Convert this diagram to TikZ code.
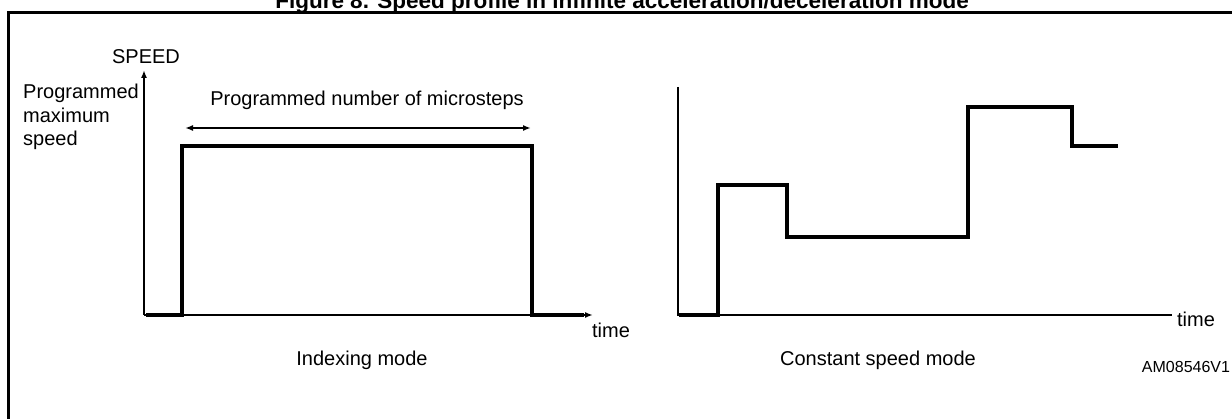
\documentclass[tikz,border=0pt]{standalone}
\usepackage{fontspec}
\setmainfont{Liberation Sans}
\usetikzlibrary{arrows.meta}
\begin{document}
\begin{tikzpicture}[x=1pt,y=-1pt,
  lbl/.style={inner sep=0pt,font=\fontsize{20}{23.5}\selectfont},
  axisline/.style={line width=2pt},
  profile/.style={line width=4.5pt,line join=miter,line cap=butt},
  tip/.style={-{Latex[length=8pt,width=6pt]}},
  frameline/.style={line width=3pt}]
\useasboundingbox (0,0) rectangle (1232,419);
\clip (0,0) rectangle (1232,419);
% title (cut off at top)
\node[inner sep=0pt,anchor=base,font=\bfseries\fontsize{22.5}{26}\selectfont] (title) at (622,9) {Figure 8. Speed profile in infinite acceleration/deceleration mode};
% frame
\coordinate (fbl) at (8.5,425);
\coordinate (ftl) at (8.5,13);
\coordinate (ftr) at (1240,13);
\draw[frameline] (fbl) -- (ftl) -- (ftr);
% left chart
\coordinate (lo) at (144,315);
\coordinate (ly) at (144,70);
\coordinate (lx) at (593,315);
\draw[axisline,tip] (lo) -- (ly);
\draw[axisline,tip] (lo) -- (lx);
\draw[profile] (146,315) -- (182,315) -- (182,146) -- (532,146) -- (532,315) -- (584,315);
\coordinate (ma) at (185,128);
\coordinate (mb) at (531,128);
\draw[line width=1.6pt,{Latex[length=8pt,width=6pt]}-{Latex[length=8pt,width=6pt]}] (ma) -- (mb);
\node[lbl] (speed) at (146,57) {SPEED};
\node[lbl,align=left,anchor=north west] (pms) at (23,84) {Programmed\\maximum\\speed};
\node[lbl] (nms) at (367,100) {Programmed number of microsteps};
\node[lbl] (time1) at (611,330) {time};
\node[lbl] (idx) at (362,360) {Indexing mode};
% right chart
\coordinate (ro) at (678,315);
\coordinate (ry) at (678,87);
\coordinate (rx) at (1172,315);
\draw[axisline] (ry) -- (ro) -- (rx);
\draw[profile] (679,315) -- (718,315) -- (718,185) -- (787,185) -- (787,237) -- (968,237) -- (968,107) -- (1072,107) -- (1072,146) -- (1118,146);
\node[lbl] (time2) at (1196,319) {time};
\node[lbl] (csm) at (878,360) {Constant speed mode};
\node[inner sep=0pt,font=\fontsize{16}{19}\selectfont] (am) at (1186,367) {AM08546V1};
\end{tikzpicture}
\end{document}
